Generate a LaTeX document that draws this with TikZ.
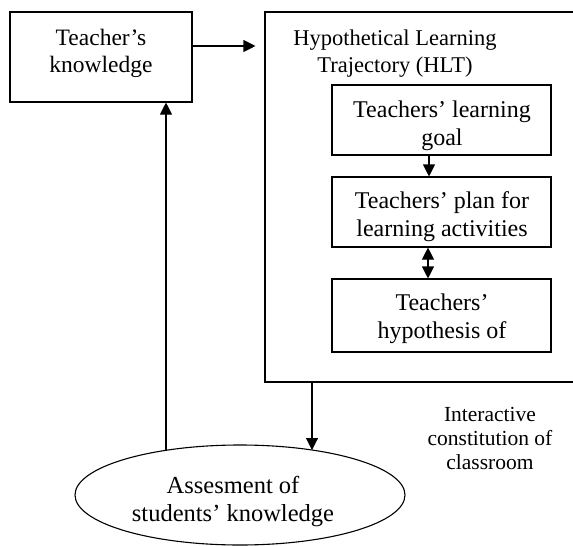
\documentclass[tikz,border=0pt]{standalone}
\usepackage{fontspec}
\setmainfont{Liberation Serif}
\usetikzlibrary{shapes.geometric,arrows.meta}

\newlength{\du}
\setlength{\du}{1pt}

\tikzset{
  diabox/.style={draw=dialinecolor, line width=1.1\du, fill=white, inner sep=0pt},
  dialabel/.style={align=center, inner sep=0pt, font=\fontsize{23.5}{27.5}\selectfont},
  diaarrow/.style={line width=1.1\du, -{Triangle[length=12pt,width=12pt]}},
}

\begin{document}
\begin{tikzpicture}
\pgftransformxscale{1.000000}
\pgftransformyscale{-1.000000}
\definecolor{dialinecolor}{rgb}{0.000000, 0.000000, 0.000000}
\useasboundingbox (0\du,0\du) rectangle (573\du,546\du);
\clip (0\du,0\du) rectangle (573\du,546\du);
% outer boxes
\node[diabox, minimum width=182\du, minimum height=90\du] (tk) at (101\du,57\du) {};
\node[diabox, minimum width=325\du, minimum height=370\du] (hlt) at (427.5\du,197\du) {};
% inner boxes of the HLT
\node[diabox, minimum width=219\du, minimum height=70\du] (goal) at (441.5\du,120\du) {};
\node[diabox, minimum width=219\du, minimum height=70\du] (plan) at (441.5\du,212\du) {};
\node[diabox, minimum width=219\du, minimum height=73\du] (hypo) at (441.5\du,315.5\du) {};
\node[diabox, ellipse, minimum width=330\du, minimum height=100\du] (assess) at (240\du,495\du) {};
% setfont left to latex
\node[dialabel] (tktext) at (101\du,53.5\du) {Teacher’s\\knowledge};
\node[dialabel, font=\fontsize{22.5}{27.5}\selectfont] (hlttext) at (395\du,53.5\du) {Hypothetical Learning\\Trajectory (HLT)};
\node[dialabel, font=\fontsize{24}{28}\selectfont] (goaltext) at (442\du,126\du) {Teachers’ learning\\goal};
\node[dialabel, font=\fontsize{24}{28}\selectfont] (plantext) at (442\du,216.5\du) {Teachers’ plan for\\learning activities};
\node[dialabel, font=\fontsize{24}{28}\selectfont] (hypotext) at (442\du,319\du) {Teachers’\\hypothesis of};
\node[dialabel, font=\fontsize{24.5}{27.5}\selectfont] (assesstext) at (233\du,501.5\du) {Assesment of\\students’ knowledge};
\node[dialabel, font=\fontsize{21.5}{24}\selectfont] (classtext) at (490\du,438\du) {Interactive\\constitution of\\classroom};
% arrow lines
\coordinate (toprow) at (0\du,46\du);
\coordinate (goalcol) at (429\du,0\du);
\coordinate (plancol) at (428\du,0\du);
\coordinate (hltcol) at (312\du,0\du);
\coordinate (assessin) at (312\du,450\du);
\coordinate (assessout) at (166\du,450\du);
% connectors
\draw[diaarrow, shorten >=9pt] (tk.east |- toprow) -- (hlt.west |- toprow);
\draw[diaarrow] (goal.south -| goalcol) -- (plan.north -| goalcol);
\draw[diaarrow, {Triangle[length=12pt,width=12pt]}-{Triangle[length=12pt,width=12pt]}] (plan.south -| plancol) -- (hypo.north -| plancol);
\draw[diaarrow] (hlt.south -| hltcol) -- (assessin);
\draw[diaarrow] (assessout) -- (assessout |- tk.south);
\end{tikzpicture}
\end{document}
